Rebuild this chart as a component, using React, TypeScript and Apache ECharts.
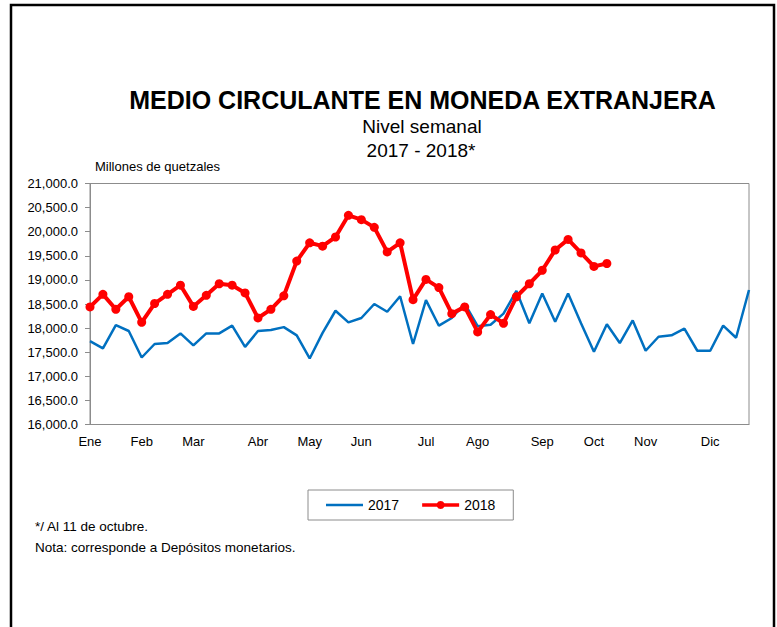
import React, { useEffect, useRef } from "react";
import * as echarts from "echarts";

const monthLabels = ["Ene", "Feb", "Mar", "Abr", "May", "Jun", "Jul", "Ago", "Sep", "Oct", "Nov", "Dic"];
const monthWeekIndex = [0, 4, 8, 13, 17, 21, 26, 30, 35, 39, 43, 48];
const weekCount = 52;

const series2017 = [
  17730, 17580, 18060, 17940, 17390, 17670, 17690, 17890, 17640, 17890,
  17890, 18050, 17610, 17940, 17960, 18020, 17850, 17370, 17900, 18360,
  18120, 18210, 18500, 18340, 18660, 17670, 18580, 18050, 18210, 18510,
  18040, 18070, 18300, 18770, 18100, 18720, 18130, 18720, 18100, 17510,
  18080, 17690, 18160, 17530, 17820, 17850, 17990, 17530, 17530, 18050,
  17800, 18790,
];

const series2018 = [
  18440, 18700, 18390, 18650, 18120, 18510, 18700, 18890, 18450, 18680,
  18920, 18890, 18730, 18210, 18390, 18670, 19390, 19770, 19700, 19890,
  20340, 20250, 20090, 19580, 19770, 18590, 19010, 18840, 18300, 18440,
  17920, 18280, 18100, 18650, 18920, 19200, 19620, 19840, 19560, 19280,
  19340,
];

const yMin = 16000;
const yMax = 21000;
const yInterval = 500;

const FONT = 'Arial, "Liberation Sans", sans-serif';

const legendLineIcon = "path://M0,0 L40,0 L40,2.6 L0,2.6 Z";
const legendDotIcon =
  "path://M0,4 L14.4,4 A4,4 0 0 1 21.6,4 L36,4 L36,7.5 L21.6,7.5 A4,4 0 0 1 14.4,7.5 L0,7.5 Z";

export default function App() {
  const ref = useRef<HTMLDivElement>(null);

  useEffect(() => {
    const chart = echarts.init(ref.current!, null, { renderer: "svg" });
    const weeks = Array.from({ length: weekCount }, (_, i) => {
      const m = monthWeekIndex.indexOf(i);
      return m >= 0 ? monthLabels[m] : "S" + (i + 1);
    });

    const txt = (text: string, x: number, y: number, size: number, bold = false, align = "center") => ({
      type: "text",
      x,
      y,
      silent: true,
      style: {
        text,
        fontSize: size,
        fontWeight: bold ? "bold" : "normal",
        fontFamily: FONT,
        fill: "#000",
        textAlign: align,
        textVerticalAlign: "middle",
        align,
        verticalAlign: "middle",
      },
    });

    chart.setOption({
      animation: false,
      backgroundColor: "#ffffff",
      textStyle: { fontFamily: FONT },
      grid: { left: 90, right: 28, top: 183.5, bottom: 202.5, show: true, borderColor: "#8c8c8c", borderWidth: 1 },
      legend: {
        data: [
          { name: "2017", icon: legendLineIcon },
          { name: "2018", icon: legendDotIcon },
        ],
        left: 308,
        top: 490,
        padding: [8, 18],
        borderColor: "#8c8c8c",
        borderWidth: 1,
        itemWidth: 37,
        itemHeight: 14,
        itemGap: 23,
        textStyle: { fontSize: 14, color: "#000", fontFamily: FONT },
      },
      xAxis: {
        type: "category",
        data: weeks,
        boundaryGap: false,
        axisLine: { lineStyle: { color: "#8c8c8c", width: 1 } },
        axisTick: { show: false },
        axisLabel: {
          interval: (idx: number) => monthWeekIndex.includes(idx),
          formatter: (v: string) => (monthLabels.includes(v) ? v : ""),
          color: "#000",
          fontSize: 13,
          margin: 10,
          fontFamily: FONT,
        },
        splitLine: { show: false },
      },
      yAxis: {
        type: "value",
        min: yMin,
        max: yMax,
        interval: yInterval,
        axisLine: { show: true, lineStyle: { color: "#8c8c8c", width: 1 } },
        axisTick: { show: true, length: 5, lineStyle: { color: "#8c8c8c" } },
        axisLabel: {
          color: "#000",
          fontSize: 13,
          margin: 12,
          fontFamily: FONT,
          formatter: (v: number) =>
            v.toLocaleString("en-US", { minimumFractionDigits: 1, maximumFractionDigits: 1 }),
        },
        splitLine: { show: false },
      },
      series: [
        {
          name: "2017",
          type: "line",
          data: series2017,
          symbol: "none",
          lineStyle: { color: "#0070C0", width: 2.5 },
          itemStyle: { color: "#0070C0" },
          z: 2,
        },
        {
          name: "2018",
          type: "line",
          data: series2018,
          symbol: "circle",
          symbolSize: 9,
          showAllSymbol: true,
          lineStyle: { color: "#FF0000", width: 4 },
          itemStyle: { color: "#FF0000" },
          z: 3,
        },
      ],
      graphic: [
        {
          type: "rect",
          shape: { x: 11, y: 5, width: 763, height: 660 },
          style: { fill: "none", stroke: "#000", lineWidth: 2.5 },
          silent: true,
        },
        txt("MEDIO CIRCULANTE EN MONEDA EXTRANJERA", 422.5, 100, 25, true),
        txt("Nivel semanal", 422, 126, 19),
        txt("2017 - 2018*", 421, 150, 19),
        txt("Millones de quetzales", 95, 166, 13, false, "left"),
        txt("*/ Al 11 de octubre.", 35, 526, 13.5, false, "left"),
        txt("Nota: corresponde a Depósitos monetarios.", 35, 547, 13.5, false, "left"),
      ],
    });

    return () => {
      chart.dispose();
    };
  }, []);

  return (
    <div
      ref={ref}
      style={{ position: "fixed", left: 0, top: 0, width: 777, height: 627, background: "#fff" }}
    />
  );
}
